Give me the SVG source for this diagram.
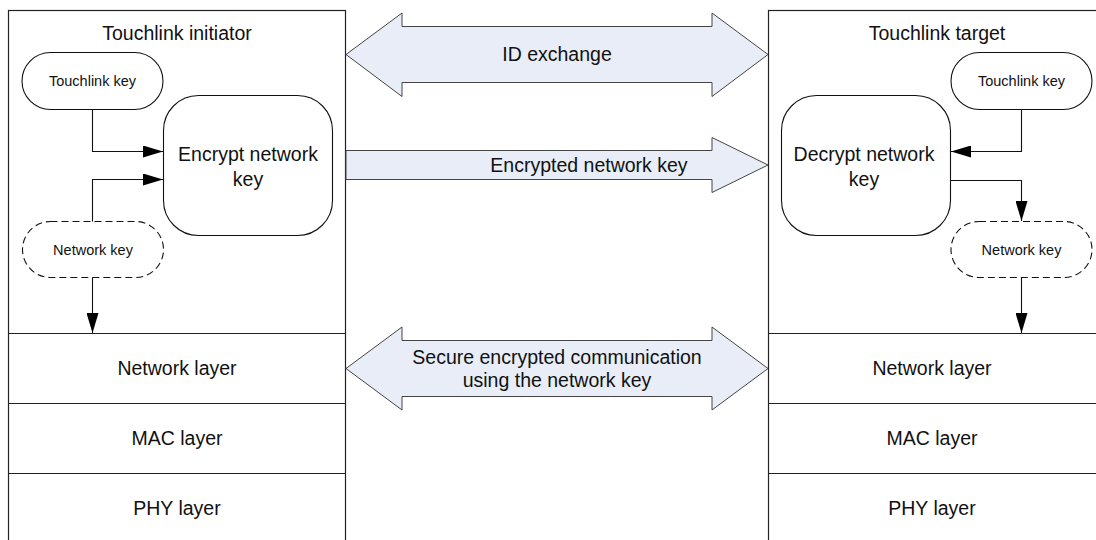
<svg xmlns="http://www.w3.org/2000/svg" width="1096" height="540" viewBox="0 0 1096 540">
<style>
.box{fill:#fff;stroke:#222;stroke-width:1.2}
.pill{fill:#fff;stroke:#111;stroke-width:1.1}
.dash{stroke-dasharray:7 4}
.big{fill:#e8edf7;stroke:#444;stroke-width:1}
.conn{fill:none;stroke:#111;stroke-width:1.1}
text{font-family:"Liberation Sans",Arial,sans-serif;fill:#111;text-anchor:middle;dominant-baseline:central}
.t1{font-size:19.5px}
.t2{font-size:14.5px}
</style>
<defs>
<marker id="ah" viewBox="0 0 20 12" refX="20" refY="6" markerWidth="20" markerHeight="12" markerUnits="userSpaceOnUse" orient="auto">
<path d="M0,0 L20,6 L0,12 Z" fill="#000"/>
</marker>
</defs>
<rect width="1096" height="540" fill="#fff"/>

<g id="initiator">
<rect class="box" x="8.5" y="10.5" width="337" height="540"/>
<line class="box" x1="8.5" y1="333.5" x2="345.5" y2="333.5"/>
<line class="box" x1="8.5" y1="403.5" x2="345.5" y2="403.5"/>
<line class="box" x1="8.5" y1="473.5" x2="345.5" y2="473.5"/>
<text class="t1" x="177" y="33">Touchlink initiator</text>
<text class="t1" x="177" y="368">Network layer</text>
<text class="t1" x="177" y="438">MAC layer</text>
<text class="t1" x="177" y="508">PHY layer</text>
</g>

<g id="target">
<rect class="box" x="768.5" y="10.5" width="340" height="540"/>
<line class="box" x1="768.5" y1="333.5" x2="1096" y2="333.5"/>
<line class="box" x1="768.5" y1="403.5" x2="1096" y2="403.5"/>
<line class="box" x1="768.5" y1="473.5" x2="1096" y2="473.5"/>
<text class="t1" x="937" y="33">Touchlink target</text>
<text class="t1" x="932" y="368">Network layer</text>
<text class="t1" x="932" y="438">MAC layer</text>
<text class="t1" x="932" y="508">PHY layer</text>
</g>

<g id="init-touchlink-key">
<rect class="pill" x="22" y="52.5" width="141" height="57" rx="28.5"/>
<text class="t2" x="92.5" y="81">Touchlink key</text>
</g>
<g id="encrypt">
<rect class="pill" x="163.5" y="95.5" width="169" height="140" rx="35"/>
<text class="t1" x="248" y="154">Encrypt network</text>
<text class="t1" x="248" y="179">key</text>
</g>
<g id="init-network-key">
<rect class="pill dash" x="22.5" y="221.5" width="141" height="56" rx="28"/>
<text class="t2" x="93" y="249.5">Network key</text>
</g>

<g id="tgt-touchlink-key">
<rect class="pill" x="951" y="52.5" width="141" height="57" rx="28.5"/>
<text class="t2" x="1021.5" y="81">Touchlink key</text>
</g>
<g id="decrypt">
<rect class="pill" x="781.5" y="95.5" width="169" height="140" rx="35"/>
<text class="t1" x="864" y="154">Decrypt network</text>
<text class="t1" x="864" y="179">key</text>
</g>
<g id="tgt-network-key">
<rect class="pill dash" x="951" y="221.5" width="141" height="56" rx="28"/>
<text class="t2" x="1021.5" y="249.5">Network key</text>
</g>

<g id="id-exchange">
<path class="big" d="M346,54.5 L402,13 L402,26.5 L712,26.5 L712,13 L768,54.5 L712,96.5 L712,82.5 L402,82.5 L402,96.5 Z"/>
<text class="t1" x="557" y="54">ID exchange</text>
</g>
<g id="encrypted-key-transfer">
<path class="big" d="M346,150.5 L712,150.5 L712,137.5 L768,165 L712,192.5 L712,179.5 L346,179.5 Z"/>
<text class="t1" x="589" y="165">Encrypted network key</text>
</g>
<g id="secure-comm">
<path class="big" d="M346,368.5 L402,327 L402,340.5 L712,340.5 L712,327 L768,368.5 L712,410 L712,396.5 L402,396.5 L402,410 Z"/>
<text class="t1" x="557" y="357">Secure encrypted communication</text>
<text class="t1" x="557" y="380">using the network key</text>
</g>

<g id="connectors">
<polyline class="conn" points="92.5,109.5 92.5,151.5 163,151.5" marker-end="url(#ah)"/>
<polyline class="conn" points="92.5,221.5 92.5,179.5 163,179.5" marker-end="url(#ah)"/>
<polyline class="conn" points="92.5,277.5 92.5,333" marker-end="url(#ah)"/>
<polyline class="conn" points="1021.5,109.5 1021.5,151.5 951,151.5" marker-end="url(#ah)"/>
<polyline class="conn" points="951,180.5 1021.5,180.5 1021.5,221" marker-end="url(#ah)"/>
<polyline class="conn" points="1021.5,277.5 1021.5,333" marker-end="url(#ah)"/>
</g>
</svg>
